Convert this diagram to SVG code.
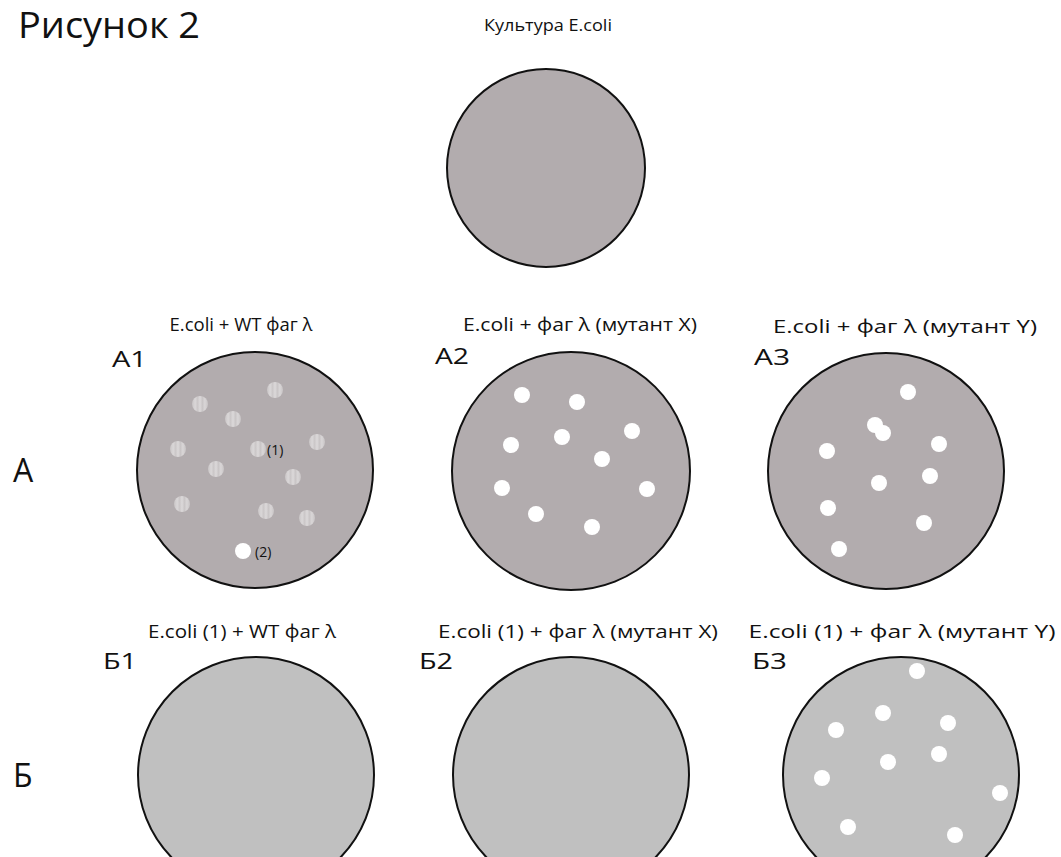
<svg xmlns="http://www.w3.org/2000/svg" width="1061" height="857" viewBox="0 0 1061 857">
  <style>
    text { font-family: "Open Sans", "Noto Sans", "DejaVu Sans", sans-serif; fill: #111; }
    .title { font-size: 36px; }
    .cap { font-size: 18.5px; }
    .cap-sm { font-size: 17px; }
    .tag { font-size: 21px; }
    .row { font-size: 32px; }
    .num { font-size: 14px; }
    .plateA { fill: #b2acae; stroke: #111; stroke-width: 2; }
    .plateB { fill: #c0c0c0; stroke: #111; stroke-width: 2; }
    .clear { fill: #ffffff; }
    .turbid { fill: url(#turbidFill); }
  </style>
  <defs>
    <!-- streaky light fill of the turbid plaques -->
    <linearGradient id="turbidFill" x1="0" y1="0" x2="1" y2="0">
      <stop offset="0" stop-color="#c9c5c6"/>
      <stop offset="0.2" stop-color="#dad7d8"/>
      <stop offset="0.35" stop-color="#cbc7c8"/>
      <stop offset="0.5" stop-color="#dcd9da"/>
      <stop offset="0.65" stop-color="#c9c5c6"/>
      <stop offset="0.8" stop-color="#d9d6d7"/>
      <stop offset="1" stop-color="#c8c4c5"/>
    </linearGradient>
  </defs>

  <text class="title" x="18" y="38" textLength="182" lengthAdjust="spacingAndGlyphs">Рисунок 2</text>

  <!-- starting culture -->
  <g id="culture">
    <text class="cap-sm" x="548" y="31" text-anchor="middle" textLength="128" lengthAdjust="spacingAndGlyphs">Культура E.coli</text>
    <circle class="plateA" cx="546" cy="168" r="99"/>
  </g>

  <!-- row labels -->
  <text class="row" x="13" y="482">А</text>
  <text class="row" x="13" y="787">Б</text>

  <!-- row А -->
  <g id="A1">
    <text class="cap" x="241" y="331" text-anchor="middle" textLength="143" lengthAdjust="spacingAndGlyphs">E.coli + WT фаг λ</text>
    <text class="tag" x="112" y="367" textLength="35" lengthAdjust="spacingAndGlyphs">А1</text>
    <circle class="plateA" cx="255" cy="470" r="118"/>
    <g class="turbid">
      <circle cx="275" cy="390" r="8"/>
      <circle cx="200" cy="404" r="8"/>
      <circle cx="233" cy="419" r="8"/>
      <circle cx="178" cy="449" r="8"/>
      <circle cx="258" cy="449" r="8"/>
      <circle cx="317" cy="442" r="8"/>
      <circle cx="216" cy="469" r="8"/>
      <circle cx="293" cy="477" r="8"/>
      <circle cx="182" cy="504" r="8"/>
      <circle cx="266" cy="511" r="8"/>
      <circle cx="307" cy="518" r="8"/>
    </g>
    <circle class="clear" cx="243" cy="551" r="8"/>
    <text class="num" x="267" y="455">(1)</text>
    <text class="num" x="255" y="557">(2)</text>
  </g>

  <g id="A2">
    <text class="cap" x="580" y="331" text-anchor="middle" textLength="234" lengthAdjust="spacingAndGlyphs">E.coli + фаг λ (мутант X)</text>
    <text class="tag" x="435" y="364" textLength="34" lengthAdjust="spacingAndGlyphs">А2</text>
    <circle class="plateA" cx="571" cy="471" r="119"/>
    <g class="clear">
      <circle cx="522" cy="395" r="8"/>
      <circle cx="577" cy="402" r="8"/>
      <circle cx="632" cy="431" r="8"/>
      <circle cx="511" cy="445" r="8"/>
      <circle cx="562" cy="437" r="8"/>
      <circle cx="602" cy="459" r="8"/>
      <circle cx="502" cy="488" r="8"/>
      <circle cx="647" cy="489" r="8"/>
      <circle cx="536" cy="514" r="8"/>
      <circle cx="592" cy="527" r="8"/>
    </g>
  </g>

  <g id="A3">
    <text class="cap" x="905" y="333" text-anchor="middle" textLength="264" lengthAdjust="spacingAndGlyphs">E.coli + фаг λ (мутант Y)</text>
    <text class="tag" x="754" y="365" textLength="36" lengthAdjust="spacingAndGlyphs">А3</text>
    <circle class="plateA" cx="886" cy="471" r="118"/>
    <g class="clear">
      <circle cx="908" cy="392" r="8"/>
      <circle cx="875" cy="425" r="8"/>
      <circle cx="883" cy="433" r="8"/>
      <circle cx="827" cy="451" r="8"/>
      <circle cx="939" cy="444" r="8"/>
      <circle cx="879" cy="483" r="8"/>
      <circle cx="930" cy="476" r="8"/>
      <circle cx="828" cy="508" r="8"/>
      <circle cx="924" cy="523" r="8"/>
      <circle cx="839" cy="549" r="8"/>
    </g>
  </g>

  <!-- row Б -->
  <g id="B1">
    <text class="cap" x="242" y="638" text-anchor="middle" textLength="188" lengthAdjust="spacingAndGlyphs">E.coli (1) + WT фаг λ</text>
    <text class="tag" x="103" y="669" textLength="34" lengthAdjust="spacingAndGlyphs">Б1</text>
    <circle class="plateB" cx="256" cy="775" r="118"/>
  </g>

  <g id="B2">
    <text class="cap" x="578" y="638" text-anchor="middle" textLength="280" lengthAdjust="spacingAndGlyphs">E.coli (1) + фаг λ (мутант X)</text>
    <text class="tag" x="419" y="669" textLength="34" lengthAdjust="spacingAndGlyphs">Б2</text>
    <circle class="plateB" cx="571" cy="775" r="118"/>
  </g>

  <g id="B3">
    <text class="cap" x="902" y="638" text-anchor="middle" textLength="307" lengthAdjust="spacingAndGlyphs">E.coli (1) + фаг λ (мутант Y)</text>
    <text class="tag" x="752" y="669" textLength="35" lengthAdjust="spacingAndGlyphs">Б3</text>
    <circle class="plateB" cx="901" cy="775" r="118"/>
    <g class="clear">
      <circle cx="917" cy="671" r="8"/>
      <circle cx="883" cy="713" r="8"/>
      <circle cx="836" cy="730" r="8"/>
      <circle cx="948" cy="723" r="8"/>
      <circle cx="888" cy="762" r="8"/>
      <circle cx="939" cy="754" r="8"/>
      <circle cx="822" cy="778" r="8"/>
      <circle cx="1000" cy="793" r="8"/>
      <circle cx="848" cy="827" r="8"/>
      <circle cx="955" cy="835" r="8"/>
    </g>
  </g>
</svg>
